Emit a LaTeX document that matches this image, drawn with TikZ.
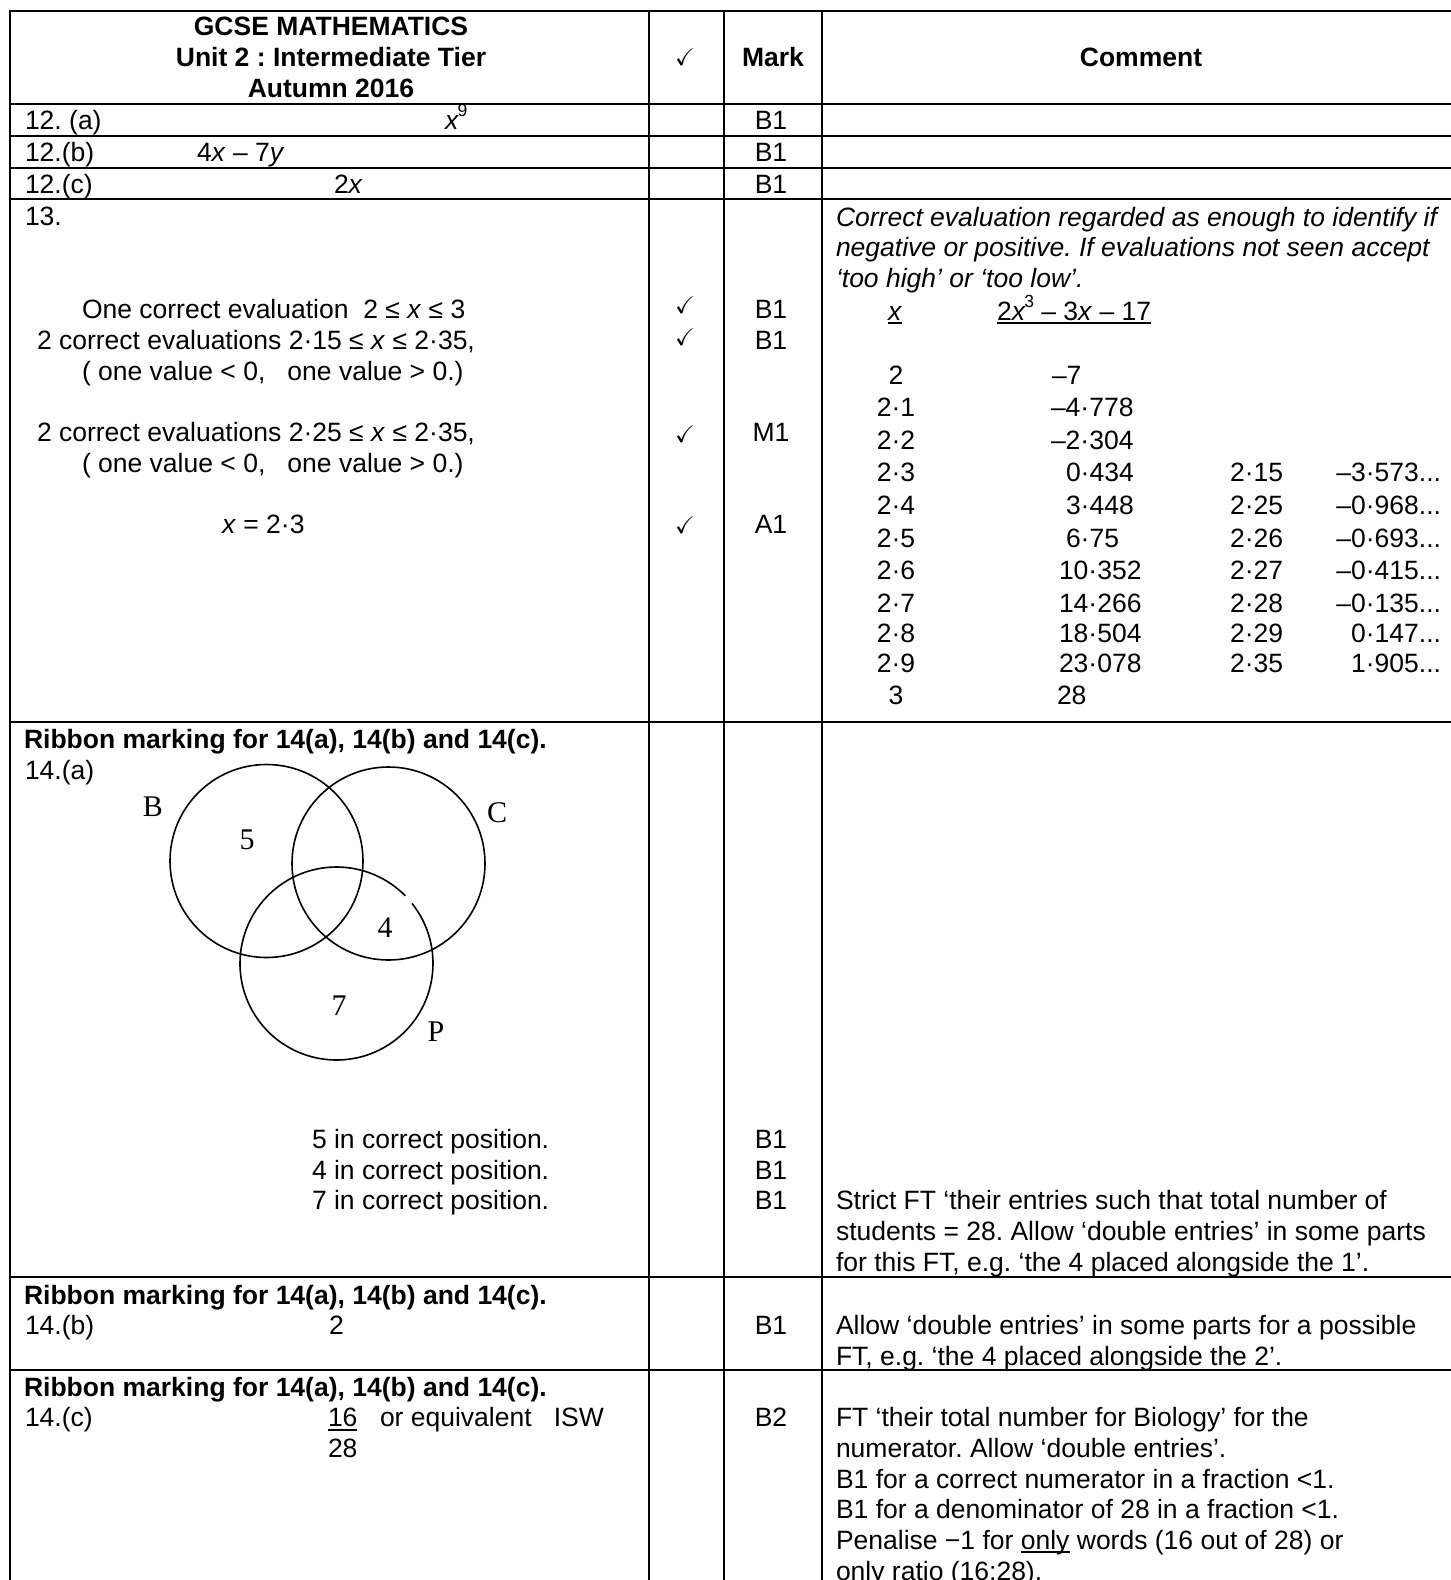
\documentclass[tikz,border=0pt]{standalone}
\usepackage{fontspec}
\usepackage{amssymb}
\setmainfont{Liberation Sans}
\newfontfamily\serifvenn{Liberation Serif}
\newsavebox\ulbox
\newcommand\myul[2][3.5]{\sbox\ulbox{#2}\rlap{\rule[-#1bp]{\wd\ulbox}{1.4bp}}\usebox\ulbox}
\newcommand\sq[1]{\raisebox{12.5bp}{\fontsize{17.5bp}{17.5bp}\selectfont #1}}
\newcommand\ck{$\checkmark$}
\tikzset{
  every node/.style={inner sep=0pt, outer sep=0pt, anchor=base west, font=\fontsize{26.5bp}{30.8bp}\selectfont\frenchspacing},
  cc/.style={anchor=base},
  rr/.style={anchor=base east},
  bt/.style={font=\fontsize{26.5bp}{30.8bp}\selectfont\bfseries\frenchspacing},
  itx/.style={font=\fontsize{26.5bp}{30.8bp}\selectfont\itshape\frenchspacing},
  vl/.style={anchor=center, font=\fontsize{30bp}{30bp}\selectfont\serifvenn},
  tabline/.style={line width=2bp, line cap=rect},
  venn/.style={line width=1.6bp},
  chk/.style={anchor=center, font=\fontsize{24bp}{24bp}\selectfont},
}
\begin{document}
\begin{tikzpicture}[x=1bp,y=-1bp]
\fill[white] (0,0) rectangle (1451,1580);
\path[use as bounding box] (0,0) rectangle (1451,1580);
\clip (0,0) rectangle (1451,1580);
% table rules
\foreach \yy in {11,104,136,168,199,722,1277,1369.5} \draw[tabline] (10,\yy) -- (1460,\yy);
\foreach \xx in {10,649,724,822,1460} \draw[tabline] (\xx,11) -- (\xx,1600);
% header
\node[bt,cc] (h1) at (331,35.7) {GCSE MATHEMATICS};
\node[bt,cc] (h2) at (331,66.7) {Unit 2 : Intermediate Tier};
\node[bt,cc] (h3) at (331,97.7) {Autumn 2016};
\node[chk] (hk) at (685,57) {\ck};
\node[bt,cc] (hm) at (773,67) {Mark};
\node[bt,cc] (hc) at (1141,67) {Comment};
% row 12
\node (a12) at (25,129.5) {12. (a)};
\node (a12x) at (445,129.5) {\textit{x}\kern-1.5bp\sq{9}};
\node[cc] (a12m) at (771,129.5) {B1};
\node (b12) at (25,161.5) {12.(b)};
\node (b12x) at (197,161.5) {4\textit{x} – 7\textit{y}};
\node[cc] (b12m) at (771,161.5) {B1};
\node (c12) at (25,193) {12.(c)};
\node (c12x) at (334,193) {2\textit{x}};
\node[cc] (c12m) at (771,193) {B1};
% row 13 left
\node (q13) at (25,225) {13.};
\node (e1) at (82,318) {One correct evaluation\ \ 2 ≤ \textit{x} ≤ 3};
\node (e2) at (37,349) {2 correct evaluations 2·15 ≤ \textit{x} ≤ 2·35,};
\node (e3) at (82,380) {( one value < 0,\ \ \ one value > 0.)};
\node (e4) at (37,441) {2 correct evaluations 2·25 ≤ \textit{x} ≤ 2·35,};
\node (e5) at (82,472) {( one value < 0,\ \ \ one value > 0.)};
\node (e6) at (222,533.5) {\textit{x} = 2·3};
\node[chk] (k1) at (685,305) {\ck};
\node[chk] (k2) at (685,337) {\ck};
\node[chk] (k3) at (685,434) {\ck};
\node[chk] (k4) at (685,525) {\ck};
\node[cc] (m1) at (771,318) {B1};
\node[cc] (m2) at (771,349) {B1};
\node[cc] (m3) at (771,441) {M1};
\node[cc] (m4) at (771,533.5) {A1};
% row 13 comment
\node[itx] (c1) at (836,226) {Correct evaluation regarded as enough to identify if};
\node[itx] (c2) at (836,256.8) {negative or positive. If evaluations not seen accept};
\node[itx] (c3) at (836,287.6) {‘too high’ or ‘too low’.};
\node (tx) at (888,320) {\myul{\textit{x}}};
\node (tf) at (997,320) {\myul{2\textit{x}\kern-1.5bp\sq{3} – 3\textit{x} – 17}};
% value table
\node[cc] (v0) at (896,384.5) {2};
\node[cc] (v1) at (896,416.8) {2·1};
\node[cc] (v2) at (896,449.5) {2·2};
\node[cc] (v3) at (896,481.5) {2·3};
\node[cc] (v4) at (896,514.5) {2·4};
\node[cc] (v5) at (896,547.8) {2·5};
\node[cc] (v6) at (896,579.5) {2·6};
\node[cc] (v7) at (896,612.8) {2·7};
\node[cc] (v8) at (896,642.8) {2·8};
\node[cc] (v9) at (896,672.8) {2·9};
\node[cc] (v10) at (896,704.5) {3};
\node (w0) at (1052,384.5) {–7};
\node (w1) at (1051,416.8) {–4·778};
\node (w2) at (1051,449.5) {–2·304};
\node (w3) at (1066,481.5) {0·434};
\node (w4) at (1066,514.5) {3·448};
\node (w5) at (1066,547.8) {6·75};
\node (w6) at (1059,579.5) {10·352};
\node (w7) at (1059,612.8) {14·266};
\node (w8) at (1059,642.8) {18·504};
\node (w9) at (1059,672.8) {23·078};
\node (w10) at (1057,704.5) {28};
\node (s3) at (1230,481.5) {2·15};
\node (s4) at (1230,514.5) {2·25};
\node (s5) at (1230,547.8) {2·26};
\node (s6) at (1230,579.5) {2·27};
\node (s7) at (1230,612.8) {2·28};
\node (s8) at (1230,642.8) {2·29};
\node (s9) at (1230,672.8) {2·35};
\node[rr] (u3) at (1441,481.5) {–3·573...};
\node[rr] (u4) at (1441,514.5) {–0·968...};
\node[rr] (u5) at (1441,547.8) {–0·693...};
\node[rr] (u6) at (1441,579.5) {–0·415...};
\node[rr] (u7) at (1441,612.8) {–0·135...};
\node[rr] (u8) at (1441,642.8) {0·147...};
\node[rr] (u9) at (1441,672.8) {1·905...};
% row 14(a)
\node[bt] (r1) at (24,748) {Ribbon marking for 14(a), 14(b) and 14(c).};
\node (p14a) at (25,779.5) {14.(a)};
\draw[venn] (266.5,861) circle[radius=96.5];
\draw[venn] (388.5,863.5) circle[radius=96.5];
\draw[venn] (336.5,963.5) ++(-38.5:96.5) arc[start angle=-38.5, end angle=315.5, radius=96.5];
\node[vl] (lb) at (153,807) {B};
\node[vl] (lc) at (497,813) {C};
\node[vl] (l5) at (247,840) {5};
\node[vl] (l4) at (385,928) {4};
\node[vl] (l7) at (339,1006) {7};
\node[vl] (lp) at (436,1032) {P};
\node (f1) at (312,1148.5) {5 in correct position.};
\node (f2) at (312,1179.5) {4 in correct position.};
\node (f3) at (312,1209.8) {7 in correct position.};
\node[cc] (fm1) at (771,1148.5) {B1};
\node[cc] (fm2) at (771,1179.5) {B1};
\node[cc] (fm3) at (771,1209.8) {B1};
\node (g1) at (836,1209.8) {Strict FT ‘their entries such that total number of};
\node (g2) at (836,1240.6) {students = 28. Allow ‘double entries’ in some parts};
\node (g3) at (836,1271.4) {for this FT, e.g. ‘the 4 placed alongside the 1’.};
% row 14(b)
\node[bt] (r2) at (24,1304) {Ribbon marking for 14(a), 14(b) and 14(c).};
\node (p14b) at (25,1334.8) {14.(b)};
\node (b2) at (329,1334.8) {2};
\node[cc] (bm) at (771,1334.8) {B1};
\node (h1c) at (836,1334.8) {Allow ‘double entries’ in some parts for a possible};
\node (h2c) at (836,1365.6) {FT, e.g. ‘the 4 placed alongside the 2’.};
% row 14(c)
\node[bt] (r3) at (24,1396) {Ribbon marking for 14(a), 14(b) and 14(c).};
\node (p14c) at (25,1426.5) {14.(c)};
\node (n16) at (328,1426.5) {\myul[4]{16}};
\node (n28) at (328,1457.3) {28};
\node (neq) at (380,1426.5) {or equivalent\ \ \ ISW};
\node[cc] (cm) at (771,1426.5) {B2};
\node (j1) at (836,1426.5) {FT ‘their total number for Biology’ for the};
\node (j2) at (836,1457.3) {numerator. Allow ‘double entries’.};
\node (j3) at (836,1488.1) {B1 for a correct numerator in a fraction <1.};
\node (j4) at (836,1518.9) {B1 for a denominator of 28 in a fraction <1.};
\node (j5) at (836,1549.7) {Penalise −1 for \myul[3]{only} words (16 out of 28) or};
\node (j6) at (836,1580.5) {only ratio (16:28).};
\end{tikzpicture}
\end{document}
